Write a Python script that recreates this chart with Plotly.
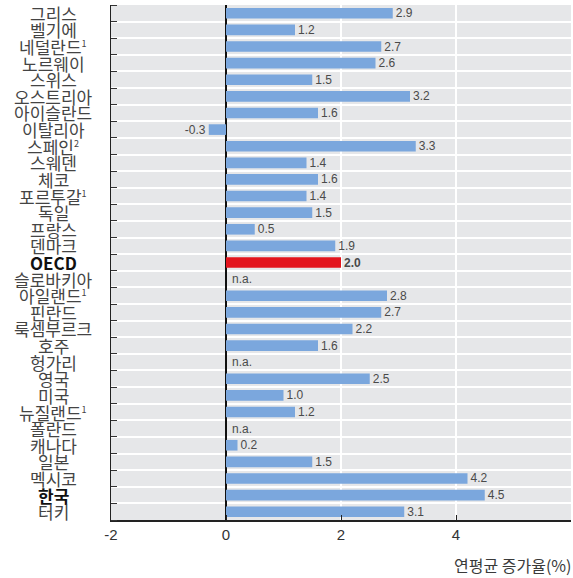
import plotly.graph_objects as go

countries = ["그리스", "벨기에", "네덜란드<sup>1</sup>", "노르웨이", "스위스", "오스트리아", "아이슬란드",
             "이탈리아", "스페인<sup>2</sup>", "스웨덴", "체코", "포르투갈<sup>1</sup>", "독일", "프랑스",
             "덴마크", "<b>OECD</b>", "슬로바키아", "아일랜드<sup>1</sup>", "핀란드", "룩셈부르크", "호주",
             "헝가리", "영국", "미국", "뉴질랜드<sup>1</sup>", "폴란드", "캐나다", "일본", "멕시코",
             "<b>한국</b>", "터키"]
values = [2.9, 1.2, 2.7, 2.6, 1.5, 3.2, 1.6, -0.3, 3.3, 1.4, 1.6, 1.4, 1.5, 0.5, 1.9, 2.0, None,
          2.8, 2.7, 2.2, 1.6, None, 2.5, 1.0, 1.2, None, 0.2, 1.5, 4.2, 4.5, 3.1]
highlight = "<b>OECD</b>"
x_ticks = [-2, 0, 2, 4, 6]
axis_title = "연평균 증가율(%)"
na_text = "n.a."

n = len(countries)
ypos = list(range(n))
colors = ["#e3141d" if c == highlight else "#7ba7dd" for c in countries]
texts = []
for c, v in zip(countries, values):
    if v is None:
        texts.append("")
    elif c == highlight:
        texts.append(f"<b>{v:.1f}</b>")
    else:
        texts.append(f"{v:.1f}")

value_font = dict(family="Liberation Sans, Arial, sans-serif", size=12, color="#4a4a4a")

fig = go.Figure()
fig.add_trace(go.Bar(
    x=[v if v is not None else 0 for v in values], y=ypos, orientation="h",
    marker=dict(color=colors, line=dict(width=0)), width=0.64,
    text=texts, textposition="outside", constraintext="none", cliponaxis=False,
    textfont=value_font, hoverinfo="skip", showlegend=False,
))

for y, v in zip(ypos, values):
    if v is None:
        fig.add_annotation(x=0, y=y, xref="x", yref="y", text=na_text, showarrow=False,
                           xanchor="left", yanchor="middle", xshift=4, font=value_font)

for y, c in zip(ypos, countries):
    label = c.replace("<sup>", "<sup><span style='font-size:9px'>").replace("</sup>", "</span></sup>")
    fig.add_annotation(
        x=0, xref="paper", xshift=-58, y=y, yref="y", text=label, showarrow=False,
        xanchor="center", yanchor="middle",
        font=dict(family="Noto Sans CJK KR, sans-serif", size=17,
                  color="#111111" if "<b>" in c else "#444444"),
    )

fig.add_annotation(
    x=1, xref="paper", y=0, yref="paper", yshift=-45, xshift=2, text=axis_title, showarrow=False,
    xanchor="right", yanchor="middle",
    font=dict(family="Noto Sans CJK KR, sans-serif", size=16, color="#3a3a3a"),
)

fig.update_layout(
    width=573, height=578,
    margin=dict(l=111, r=2, t=5, b=58),
    paper_bgcolor="white", plot_bgcolor="#e6e7e9",
    bargap=0.3,
    xaxis=dict(
        range=[-2, 6], tickvals=x_ticks, ticktext=[str(t) for t in x_ticks],
        showgrid=True, gridcolor="white", gridwidth=1.5,
        zeroline=True, zerolinecolor="#111111", zerolinewidth=1.5,
        showline=True, linecolor="#222222", linewidth=1.5,
        ticks="inside", ticklen=5, tickcolor="#222222",
        tickfont=dict(family="Liberation Sans, Arial, sans-serif", size=15, color="#333333"),
        fixedrange=True,
    ),
    yaxis=dict(
        range=[n - 0.5, -0.5], tickvals=ypos, showticklabels=False,
        showgrid=False, zeroline=False,
        showline=True, linecolor="#222222", linewidth=1.5,
        ticks="",
        minor=dict(tickvals=[i - 0.5 for i in range(n + 1)], showgrid=True, gridcolor="white",
                   gridwidth=2, ticks="inside", ticklen=6, tickcolor="#333333"),
        fixedrange=True,
    ),
)

fig.write_html("out.html", config={"displayModeBar": False, "staticPlot": True},
               post_script="document.body.style.margin='0';document.body.style.overflow='hidden';")
